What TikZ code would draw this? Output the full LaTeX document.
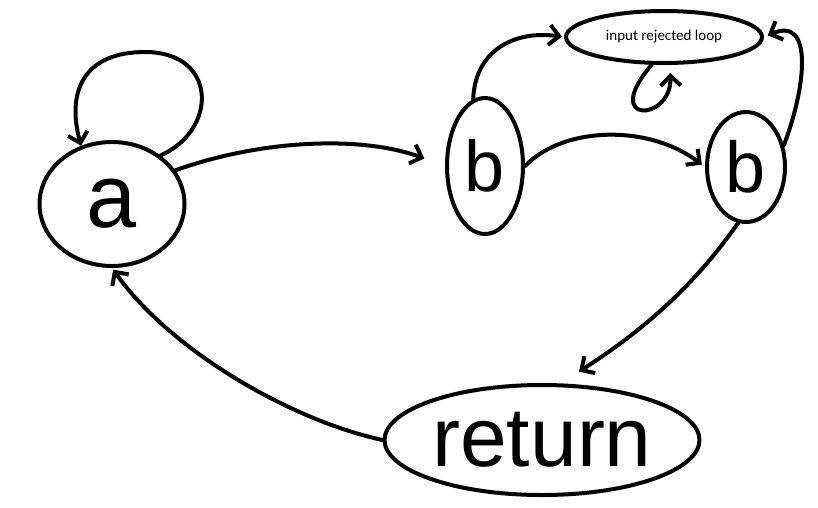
\documentclass[tikz,border=0pt]{standalone}
\usepackage{fontspec}
\setmainfont{Liberation Sans}
\newfontfamily\smallfont{Carlito}
\usetikzlibrary{shapes.geometric,arrows.meta}
\begin{document}
\begin{tikzpicture}[x=1pt,y=-1pt,
  every path/.style={line width=4pt,line cap=round,line join=round},
  st/.style={draw,ellipse,inner sep=0pt,line width=4pt},
  arr/.style={-{Straight Barb[length=10pt,width=20pt]}},
  big/.style={font=\fontsize{90}{90}\selectfont},
  bigb/.style={font=\fontsize{72}{72}\selectfont},
  ret/.style={font=\fontsize{84}{84}\selectfont}]
\useasboundingbox (0,0) rectangle (818,507);
\fill[white] (0,0) rectangle (818,507);
\node[st,big,minimum width=145pt,minimum height=124pt] (a) at (112,204) {a};
\node[st,bigb,minimum width=76pt,minimum height=136pt] (b1) at (485,166) {b};
\node[st,bigb,minimum width=78pt,minimum height=110pt] (b2) at (746,167) {b};
\node[st,font=\smallfont\fontsize{15}{15}\selectfont,minimum width=196pt,minimum height=52pt] (irl) at (664,37) {input rejected loop};
\node[st,ret,minimum width=315pt,minimum height=110pt] (r) at (542,440) {return};
% loop on a
\draw[arr] (a.45) .. controls (218,130) and (218,52) .. (145,52) .. controls (85,52) and (66,90) .. (a.118);
% a -> b1
\draw[arr,shorten >=22pt] (a.28) .. controls (260,140) and (360,135) .. (b1.west);
% b1 -> irl
\draw[arr,shorten >=2pt] (b1.100) .. controls (475,50) and (515,30) .. (irl.west);
% irl self loop
\draw[arr,shorten >=8pt] (irl.246) .. controls (600,125) and (672,122) .. (irl.282);
% b2 -> irl
\draw[arr,shorten >=4pt] (b2.30) .. controls (805,90) and (815,15) .. (irl.east);
% b1 -> b2
\draw[arr,shorten >=4pt] (b1.east) .. controls (565,125) and (650,125) .. (b2.west);
% b2 -> return
\draw[arr,shorten >=22pt] (b2.262) .. controls (705,270) and (660,320) .. (r.72);
% return -> a
\draw[arr,shorten >=2pt] (r.west) .. controls (290,420) and (170,350) .. (a.south);
\end{tikzpicture}
\end{document}
